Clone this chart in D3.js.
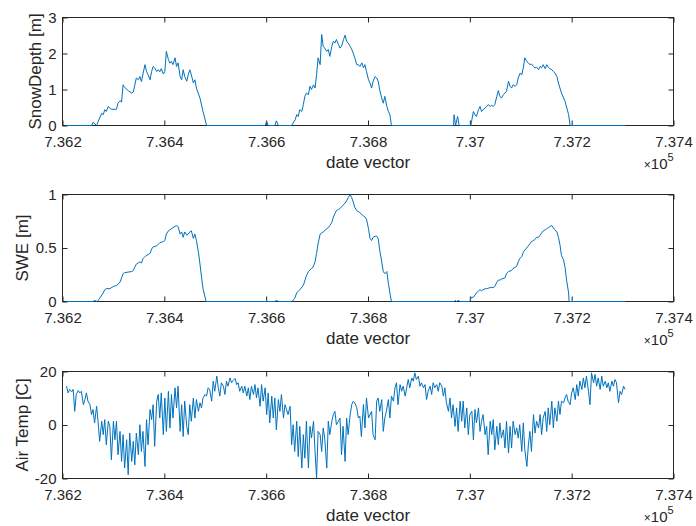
<!DOCTYPE html>
<html>
<head>
<meta charset="utf-8">
<script src="https://cdn.jsdelivr.net/npm/d3@7"></script>
<style>
  body { margin: 0; background: #fff; }
  svg text { font-family: "Liberation Sans", Arial, Helvetica, sans-serif; fill: #262626; }
</style>
</head>
<body>
<svg id="fig" width="696" height="526"></svg>
<script>
// ---- shared x axis (MATLAB datenum) ----
const xDomain = [736200, 737400];
const xTickValues = [736200, 736400, 736600, 736800, 737000, 737200, 737400];
const xTickLabels = ["7.362", "7.364", "7.366", "7.368", "7.37", "7.372", "7.374"];

// ---- snow depth [m] ----
const depthTicks = [0, 1, 2, 3];
const depthTickLabels = ["0", "1", "2", "3"];
const depthDates = [
  736207, 736257, 736260, 736267, 736270, 736277, 736280, 736283, 736286, 736290,
  736293, 736296, 736306, 736309, 736313, 736316, 736319, 736322, 736329, 736336,
  736339, 736345, 736349, 736352, 736355, 736358, 736362, 736365, 736368, 736372,
  736375, 736378, 736381, 736385, 736388, 736391, 736394, 736398, 736401, 736404,
  736408, 736411, 736414, 736417, 736421, 736424, 736427, 736431, 736434, 736437,
  736440, 736444, 736447, 736450, 736453, 736457, 736460, 736463, 736470, 736476,
  736483,
  736598, 736601, 736604, 736617, 736620, 736624, 736650,
  736653, 736657, 736660, 736663, 736666, 736670, 736673, 736676, 736679, 736683,
  736686, 736689, 736693, 736696, 736699, 736702, 736706, 736709, 736712, 736715,
  736719, 736722, 736725, 736729, 736732, 736735, 736738, 736742, 736745, 736748,
  736752, 736755, 736758, 736761, 736765, 736768, 736771, 736774, 736778, 736781,
  736784, 736788, 736791, 736794, 736797, 736801, 736804, 736807, 736810, 736814,
  736817, 736820, 736823, 736827, 736830, 736833, 736837, 736840, 736843, 736846,
  736968, 736969, 736972, 736976, 736979, 737002,
  737004, 737007, 737010, 737013, 737017, 737020, 737023, 737026, 737030, 737033,
  737036, 737040, 737043, 737046, 737049, 737053, 737056, 737059, 737062, 737066,
  737069, 737072, 737076, 737079, 737082, 737085, 737089, 737092, 737095, 737099,
  737102, 737105, 737108, 737112, 737115, 737118, 737121, 737125, 737128, 737131,
  737135, 737138, 737141, 737144, 737148, 737151, 737154, 737157, 737161, 737164,
  737167, 737171, 737174, 737180, 737187, 737194, 737197, 737305
];
const depthValues = [
  0, 0, 0.09, 0, 0.11, 0.34, 0.30, 0.44, 0.39, 0.53,
  0.48, 0.45, 0.45, 0.62, 0.69, 0.65, 1.13, 1.06, 0.97, 0.90,
  0.93, 1.32, 1.27, 1.36, 1.22, 1.43, 1.69, 1.50, 1.41, 1.27,
  1.50, 1.64, 1.60, 1.50, 1.55, 1.49, 1.58, 1.43, 1.50, 2.06,
  1.83, 1.73, 1.78, 1.69, 1.88, 1.64, 1.74, 1.36, 1.27, 1.55,
  1.36, 1.23, 1.41, 1.55, 1.41, 1.18, 1.27, 1.04, 0.76, 0.39,
  0,
  0, 0.11, 0, 0, 0.13, 0, 0,
  0.07, 0.16, 0.30, 0.25, 0.44, 0.39, 0.58, 0.81, 0.90, 0.86,
  1.09, 1.00, 1.13, 1.04, 1.41, 1.88, 1.69, 2.53, 2.20, 2.15,
  2.06, 2.11, 1.92, 2.20, 2.34, 2.29, 2.39, 2.25, 2.15, 2.20,
  2.39, 2.51, 2.34, 2.29, 2.20, 2.11, 2.01, 1.88, 1.69, 1.69,
  1.64, 1.74, 1.60, 1.69, 1.50, 1.27, 1.18, 1.04, 1.23, 1.36,
  1.32, 1.23, 0.99, 0.76, 0.62, 0.81, 0.53, 0.39, 0.30, 0,
  0, 0.30, 0, 0.25, 0, 0,
  0.16, 0.39, 0.30, 0.25, 0.44, 0.53, 0.39, 0.44, 0.48, 0.53,
  0.58, 0.53, 0.56, 0.53, 0.58, 0.81, 0.97, 0.81, 0.76, 0.86,
  0.90, 0.95, 1.23, 1.09, 1.04, 1.13, 1.09, 1.13, 1.32, 1.46,
  1.41, 1.60, 1.88, 1.78, 1.74, 1.69, 1.71, 1.64, 1.60, 1.62,
  1.55, 1.64, 1.60, 1.69, 1.58, 1.69, 1.62, 1.58, 1.55, 1.50,
  1.46, 1.36, 1.18, 0.90, 0.67, 0.30, 0, 0
];

// ---- snow water equivalent [m] ----
const sweTicks = [0, 0.5, 1];
const sweTickLabels = ["0", "0.5", "1"];
const sweDates = [
  736207, 736260, 736263, 736268, 736270, 736273, 736280, 736283, 736286, 736293,
  736300, 736306, 736313, 736319, 736322, 736336, 736339, 736345, 736352, 736355,
  736358, 736362, 736365, 736372, 736375, 736378, 736385, 736391, 736398, 736401,
  736404, 736408, 736411, 736417, 736424, 736427, 736431, 736434, 736437, 736440,
  736444, 736447, 736450, 736453, 736457, 736460, 736463, 736467, 736470, 736473,
  736476, 736482,
  736617, 736620, 736624, 736650,
  736653, 736656, 736660, 736666, 736673, 736679, 736683, 736689, 736692, 736696,
  736699, 736702, 736706, 736709, 736712, 736719, 736722, 736725, 736729, 736732,
  736735, 736738, 736742, 736745, 736751, 736755, 736758, 736761, 736765, 736768,
  736771, 736774, 736778, 736784, 736791, 736794, 736797, 736801, 736804, 736807,
  736810, 736814, 736817, 736820, 736823, 736827, 736830, 736833, 736837, 736840,
  736843, 736846,
  736969, 736971, 736974, 736977, 736981, 737000,
  737003, 737007, 737010, 737013, 737017, 737020, 737023, 737026, 737030, 737033,
  737040, 737046, 737049, 737053, 737056, 737059, 737062, 737069, 737072, 737076,
  737082, 737085, 737089, 737092, 737095, 737098, 737102, 737105, 737108, 737115,
  737118, 737121, 737125, 737128, 737131, 737135, 737138, 737141, 737144, 737148,
  737151, 737154, 737157, 737161, 737164, 737167, 737171, 737174, 737177, 737180,
  737184, 737187, 737190, 737194, 737195, 737305
];
const sweValues = [
  0, 0, 0.01, 0, 0.01, 0.03, 0.08, 0.11, 0.12, 0.12,
  0.14, 0.15, 0.18, 0.26, 0.27, 0.28, 0.29, 0.35, 0.37, 0.36,
  0.40, 0.42, 0.43, 0.45, 0.49, 0.51, 0.52, 0.55, 0.56, 0.57,
  0.63, 0.66, 0.67, 0.69, 0.71, 0.70, 0.63, 0.65, 0.60, 0.65,
  0.62, 0.63, 0.65, 0.66, 0.59, 0.63, 0.57, 0.46, 0.35, 0.23,
  0.12, 0,
  0, 0.01, 0, 0,
  0.01, 0.03, 0.08, 0.11, 0.15, 0.24, 0.28, 0.31, 0.32, 0.37,
  0.45, 0.54, 0.63, 0.64, 0.65, 0.68, 0.69, 0.71, 0.74, 0.79,
  0.82, 0.85, 0.86, 0.87, 0.90, 0.92, 0.94, 0.97, 1.00, 0.97,
  0.93, 0.88, 0.85, 0.83, 0.80, 0.79, 0.77, 0.68, 0.59, 0.57,
  0.60, 0.61, 0.61, 0.59, 0.48, 0.37, 0.28, 0.26, 0.28, 0.17,
  0.08, 0,
  0, 0.01, 0, 0.01, 0, 0,
  0.04, 0.04, 0.06, 0.08, 0.10, 0.11, 0.10, 0.11, 0.12, 0.12,
  0.13, 0.13, 0.14, 0.18, 0.20, 0.20, 0.21, 0.22, 0.26, 0.28,
  0.29, 0.31, 0.32, 0.33, 0.37, 0.40, 0.42, 0.46, 0.48, 0.52,
  0.54, 0.56, 0.57, 0.58, 0.60, 0.60, 0.62, 0.64, 0.66, 0.67,
  0.68, 0.69, 0.70, 0.71, 0.69, 0.67, 0.65, 0.60, 0.53, 0.43,
  0.39, 0.32, 0.20, 0.08, 0, 0
];

// ---- air temperature [C] ----
const tempTicks = [-20, 0, 20];
const tempTickLabels = ["-20", "0", "20"];
const tempDates = [
  736208, 736211, 736214, 736218, 736221, 736224, 736227, 736231, 736234, 736237,
  736241, 736244, 736247, 736250, 736254, 736257, 736260, 736263, 736267, 736270,
  736273, 736277, 736280, 736283, 736286, 736290, 736293, 736296, 736300, 736303,
  736306, 736309, 736313, 736316, 736319, 736322, 736326, 736329, 736332, 736336,
  736339, 736342, 736345, 736349, 736352, 736355, 736358, 736362, 736365, 736368,
  736372, 736375, 736378, 736381, 736385, 736388, 736391, 736394, 736398, 736401,
  736404, 736408, 736411, 736414, 736417, 736421, 736424, 736427, 736431, 736434,
  736437, 736440, 736444, 736447, 736450, 736453, 736457, 736460, 736463, 736467,
  736470, 736473, 736476, 736480, 736483, 736486, 736489, 736493, 736496, 736499,
  736503, 736506, 736509, 736512, 736516, 736519, 736522, 736525, 736529, 736532,
  736535, 736539, 736542, 736545, 736548, 736552, 736555, 736558, 736562, 736565,
  736568, 736571, 736575, 736578, 736581, 736584, 736588, 736591, 736594, 736598,
  736601, 736604, 736607, 736611, 736614, 736617, 736620, 736624, 736627, 736630,
  736634, 736637, 736640, 736643, 736647, 736650, 736653, 736656, 736660, 736663,
  736666, 736670, 736673, 736676, 736679, 736683, 736686, 736689, 736693, 736696,
  736699, 736702, 736706, 736709, 736712, 736715, 736719, 736722, 736725, 736729,
  736732, 736735, 736738, 736742, 736745, 736748, 736751, 736755, 736758, 736761,
  736765, 736768, 736771, 736774, 736778, 736781, 736784, 736787, 736791, 736794,
  736797, 736801,
  736807, 736810, 736814, 736817, 736820, 736823, 736827, 736830, 736833, 736836,
  736840, 736843, 736846, 736850, 736853, 736856, 736859, 736863, 736866, 736869,
  736873, 736876, 736879, 736882, 736886, 736889, 736892, 736895, 736899, 736902,
  736905, 736909, 736912, 736915, 736918, 736922, 736925, 736928, 736931, 736935,
  736938, 736941, 736945, 736948, 736951, 736954, 736958, 736961, 736964, 736967,
  736971, 736974, 736977, 736981, 736984, 736987, 736990, 736994, 736997, 737000,
  737004, 737007, 737010, 737013, 737017, 737020, 737023, 737026, 737030, 737033,
  737036, 737040, 737043, 737046, 737049, 737053, 737056, 737059, 737062, 737066,
  737069, 737072, 737076, 737079, 737082, 737085, 737089, 737092, 737095, 737098,
  737102, 737105, 737108, 737112, 737115, 737118, 737121, 737125, 737128, 737131,
  737135, 737138, 737141, 737144, 737148, 737151, 737154, 737157, 737161, 737164,
  737167, 737171, 737174, 737177, 737180, 737184, 737187, 737190, 737193, 737197,
  737200, 737203, 737207, 737210, 737213, 737216, 737220, 737223, 737226, 737229,
  737233, 737236, 737239, 737243, 737246, 737249, 737252, 737256, 737259, 737262,
  737266, 737269, 737272, 737275, 737279, 737282, 737285, 737288, 737292, 737295,
  737298, 737302, 737305
];
const tempValues = [
  14.5, 12.0, 13.3, 12.4, 13.3, 5.1, 11.4, 12.9, 12.0, 12.6,
  7.6, 9.5, 12.0, 8.9, 7.6, 3.9, 5.8, 0.8, 7.0, 0.8,
  -6.1, 1.4, -3.6, 2.0, -7.4, 1.4, -0.5, -13.0, 1.4, -5.5,
  1.4, -11.1, -2.4, -13.6, -3.6, -16.1, -5.5, -18.6, -3.0, -13.6,
  -6.1, -14.9, -3.0, -11.1, 0.1, -9.9, -2.4, -15.5, 2.0, -7.4,
  5.8, 2.0, 7.6, -8.0, 8.9, 11.4, 2.6, 12.0, -3.6, 10.1,
  -2.4, 12.6, -1.1, 11.4, 2.6, 13.9, 6.4, 14.5, -2.4, 7.6,
  -4.3, 8.9, -0.5, -3.6, 7.6, 1.4, 10.1, 2.6, 9.5, 5.1,
  8.3, 6.4, 10.1, 11.4, 10.8, 13.9, 13.3, 8.9, 16.4, 12.6,
  18.3, 13.9, 10.8, 15.8, 14.5, 11.4, 16.4, 14.5, 17.6, 15.8,
  16.6, 17.4, 15.1, 15.8, 12.6, 14.5, 12.0, 14.5, 10.8, 13.9,
  9.5, 14.5, 11.4, 15.1, 10.1, 13.9, 7.0, 15.1, 8.9, 13.9,
  3.9, 12.0, 0.8, 10.8, 2.6, 10.1, -1.8, 9.5, 5.1, 11.4,
  2.6, 7.6, 5.8, 3.9, 7.0, -7.4, 0.1, -9.9, 1.4, -11.8,
  -0.5, -16.1, -3.6, -12.4, 1.4, -16.1, -0.5, -4.9, 1.4, -9.9,
  -19.9, -2.4, -3.6, -9.9, -1.1, -4.9, -16.1, 1.4, -3.6, 1.4,
  3.9, 5.1, 0.1, 1.4, 2.6, -11.1, -0.5, -13.6, 2.6, -3.6,
  3.9, 7.6, 8.9, 8.3, 6.4, 2.6, 3.3, -4.3, 7.6, -1.1,
  10.1, 2.6,
  5.1, -3.6, -5.5, 8.9, 10.1, 5.1, 9.5, -2.4, 2.6, 5.1,
  9.5, 2.6, 10.8, 8.9, 13.9, 15.8, 7.6, 15.1, 12.6, 14.5,
  10.8, 13.9, 17.0, 13.9, 17.6, 16.4, 19.5, 17.0, 18.3, 14.5,
  15.8, 13.9, 15.1, 9.5, 12.6, 14.5, 11.4, 15.8, 13.9, 15.1,
  12.6, 15.8, 14.5, 10.8, 13.9, 8.3, 5.1, 10.1, 2.6, 7.6,
  -0.5, 6.4, -2.4, 8.9, 1.4, 8.9, -1.1, 6.4, -3.6, 3.9,
  5.1, -5.5, 5.8, 0.8, 6.4, -2.4, 1.4, 3.9, -3.6, -0.5,
  -11.1, 1.4, -3.6, 2.0, -9.3, -0.5, -7.4, 0.8, -4.9, -1.8,
  -8.6, 1.4, -10.5, -0.5, -8.6, 1.4, -3.6, -1.1, -4.9, 0.1,
  -9.9, 0.8, -9.3, -15.5, -7.4, -2.4, -9.9, 3.9, -3.0, 1.4,
  -1.1, 3.9, -3.6, 2.6, 5.1, -2.4, 6.4, 0.1, 8.9, -1.1,
  6.4, 1.4, 8.9, 3.9, 8.9, 8.3, 10.1, 11.4, 8.9, 7.6,
  12.0, 13.9, 9.5, 15.1, 10.8, 16.4, 13.3, 17.6, 13.9, 18.3,
  12.6, 7.6, 19.5, 15.8, 18.9, 14.5, 17.6, 13.3, 18.3, 14.5,
  16.4, 13.9, 15.8, 12.6, 16.4, 14.5, 17.0, 15.8, 8.3, 12.6,
  11.4, 14.5, 13.3
];

// ---- figure layout ----
const svg = d3.select("#fig");
const axLeft = 62.5, axRight = 673.5;
const axisColor = "#262626";
const lineColor = "#0072BD";

const panels = [
  { top: 17.5, bottom: 125.5, domain: [0, 3], ticks: depthTicks, labels: depthTickLabels,
    dates: depthDates, values: depthValues, ylabel: "SnowDepth [m]", ylabelX: 41 },
  { top: 194.5, bottom: 301.5, domain: [0, 1], ticks: sweTicks, labels: sweTickLabels,
    dates: sweDates, values: sweValues, ylabel: "SWE [m]", ylabelX: 27.5 },
  { top: 371.5, bottom: 478.5, domain: [-20, 20], ticks: tempTicks, labels: tempTickLabels,
    dates: tempDates, values: tempValues, ylabel: "Air Temp [C]", ylabelX: 27.5 }
];

const x = d3.scaleLinear().domain(xDomain).range([axLeft, axRight]);

function styleAxis(sel, showText) {
  sel.select(".domain").remove();
  sel.attr("font-family", null).attr("font-size", null);
  sel.selectAll(".tick line").attr("stroke", axisColor).attr("stroke-width", 1);
  if (showText) {
    sel.selectAll(".tick text").attr("fill", axisColor).style("font-size", "15px");
  } else {
    sel.selectAll(".tick text").remove();
  }
}

panels.forEach(p => {
  const y = d3.scaleLinear().domain(p.domain).range([p.bottom, p.top]);
  const g = svg.append("g");

  // box
  g.append("rect")
    .attr("x", axLeft).attr("y", p.top)
    .attr("width", axRight - axLeft).attr("height", p.bottom - p.top)
    .attr("fill", "none").attr("stroke", axisColor).attr("stroke-width", 1);

  // inward ticks on all four sides, labels bottom and left
  g.append("g").attr("transform", `translate(0,${p.bottom})`)
    .call(d3.axisBottom(x).tickValues(xTickValues)
      .tickFormat((d, i) => xTickLabels[i]).tickSize(-5).tickPadding(10.5))
    .call(s => styleAxis(s, true));
  g.append("g").attr("transform", `translate(0,${p.top})`)
    .call(d3.axisTop(x).tickValues(xTickValues).tickSize(-5))
    .call(s => styleAxis(s, false));
  g.append("g").attr("transform", `translate(${axLeft},0)`)
    .call(d3.axisLeft(y).tickValues(p.ticks)
      .tickFormat((d, i) => p.labels[i]).tickSize(-5).tickPadding(6))
    .call(s => styleAxis(s, true));
  g.append("g").attr("transform", `translate(${axRight},0)`)
    .call(d3.axisRight(y).tickValues(p.ticks).tickSize(-5))
    .call(s => styleAxis(s, false));

  // data line
  const pts = p.dates.map((d, i) => [d, p.values[i]]);
  g.append("path")
    .datum(pts)
    .attr("fill", "none")
    .attr("stroke", lineColor)
    .attr("stroke-width", 1)
    .attr("stroke-linejoin", "round")
    .attr("d", d3.line().x(d => x(d[0])).y(d => y(d[1])));

  // axis labels
  g.append("text")
    .attr("x", (axLeft + axRight) / 2).attr("y", p.bottom + 42)
    .attr("text-anchor", "middle").style("font-size", "17px")
    .text("date vector");
  g.append("text")
    .attr("transform", `translate(${p.ylabelX},${(p.top + p.bottom) / 2}) rotate(-90)`)
    .attr("text-anchor", "middle").style("font-size", "17px")
    .text(p.ylabel);

  // exponent marker
  const ex = g.append("text")
    .attr("x", axRight - 6).attr("y", p.bottom + 43)
    .attr("text-anchor", "end").style("font-size", "15px");
  ex.append("tspan").style("font-size", "12px").text("×");
  ex.append("tspan").text("10");
  g.append("text")
    .attr("x", axRight - 6).attr("y", p.bottom + 35)
    .attr("text-anchor", "start").style("font-size", "11px")
    .text("5");
});
</script>
</body>
</html>
